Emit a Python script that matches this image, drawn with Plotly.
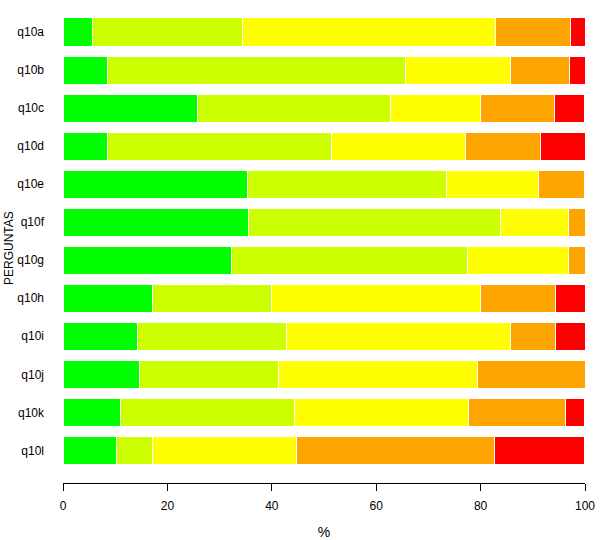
import plotly.graph_objects as go

# perguntas (de cima para baixo)
perguntas = ["q10a", "q10b", "q10c", "q10d", "q10e", "q10f",
             "q10g", "q10h", "q10i", "q10j", "q10k", "q10l"]

# percentagens por categoria de resposta
verde = [5.7, 8.6, 25.7, 8.6, 35.3, 35.5, 32.3, 17.1, 14.3, 14.7, 11.1, 10.3]
lima = [28.6, 57.1, 37.1, 42.9, 38.2, 48.4, 45.2, 22.9, 28.6, 26.5, 33.3, 6.9]
amarelo = [48.6, 20.0, 17.1, 25.7, 17.6, 12.9, 19.4, 40.0, 42.9, 38.2, 33.3, 27.6]
laranja = [14.3, 11.4, 14.3, 14.3, 8.8, 3.2, 3.2, 14.3, 8.6, 20.6, 18.5, 37.9]
vermelho = [2.9, 2.9, 5.7, 8.6, 0, 0, 0, 5.7, 5.7, 0, 3.7, 17.2]

series = [verde, lima, amarelo, laranja, vermelho]
cores = ["#00FF00", "#CCFF00", "#FFFF00", "#FFA500", "#FF0000"]

fig = go.Figure()
for valores, cor in zip(series, cores):
    fig.add_trace(go.Bar(y=perguntas, x=valores, orientation="h",
                         marker_color=cor,
                         marker_line=dict(color="white", width=1),
                         width=0.75))

fig.update_layout(
    barmode="stack",
    width=600, height=540,
    margin=dict(l=63, r=15, t=14, b=57),
    plot_bgcolor="white", paper_bgcolor="white",
    showlegend=False,
    font=dict(family="Liberation Sans, Arial", size=12, color="black"),
    xaxis=dict(range=[0, 100], tickvals=[0, 20, 40, 60, 80, 100],
               showgrid=False, zeroline=False, showline=True,
               linecolor="black", linewidth=1, automargin=False,
               ticks="outside", ticklen=7, tickcolor="black",
               ticklabelstandoff=5, ticklabeloverflow="allow",
               title=dict(text="%", standoff=22)),
    yaxis=dict(range=[11.86, -0.48], showgrid=False, zeroline=False,
               showline=False, ticks="", ticklabelstandoff=18,
               automargin=False),
)

fig.add_annotation(text="PERGUNTAS", textangle=-90, showarrow=False,
                   xref="paper", yref="paper", x=(8.5 - 63) / 522, y=0.5,
                   xanchor="center", yanchor="middle",
                   font=dict(size=12))

# sem margem no body para a figura ocupar a janela toda
fig.write_html("out.html", config={"displayModeBar": False},
               post_script="document.body.style.margin='0';"
                           "document.body.style.overflow='hidden';")
